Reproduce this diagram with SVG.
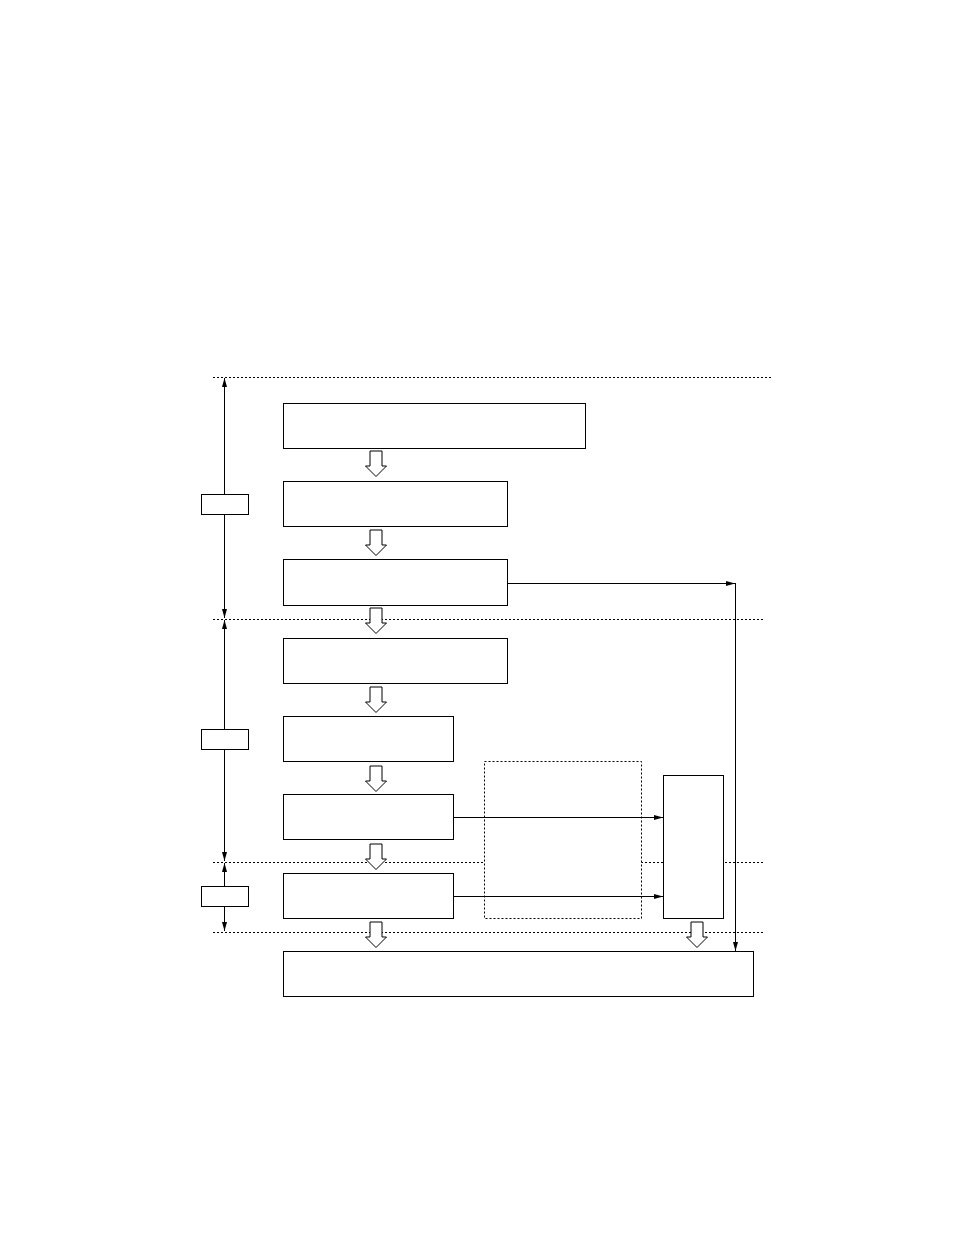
<svg xmlns="http://www.w3.org/2000/svg" width="954" height="1243" viewBox="0 0 954 1243">
<style>
.box{fill:#fff;stroke:#000;stroke-width:1}
.dbox{fill:#fff;stroke:#000;stroke-width:1;stroke-dasharray:2,2}
.sep{fill:none;stroke:#000;stroke-width:1;stroke-dasharray:2,2}
.ln{fill:none;stroke:#000;stroke-width:1}
.barrow{fill:#fff;stroke:#000;stroke-width:1}
</style>
<defs>
<marker id="ah" markerUnits="userSpaceOnUse" markerWidth="10" markerHeight="8" refX="9" refY="3" orient="auto-start-reverse">
<path d="M0,0.5 L9,3 L0,5.5 Z" fill="#000"/>
</marker>
</defs>
<rect width="954" height="1243" fill="#fff"/>
<g id="separators">
<line class="sep" x1="213" y1="377.5" x2="773" y2="377.5"/>
<line class="sep" x1="213" y1="619.5" x2="765" y2="619.5"/>
<line class="sep" x1="213" y1="862.5" x2="765" y2="862.5"/>
<line class="sep" x1="213" y1="932.5" x2="765" y2="932.5"/>
</g>
<g id="phase-arrows">
<line class="ln" x1="224.5" y1="378" x2="224.5" y2="618" marker-start="url(#ah)" marker-end="url(#ah)"/>
<line class="ln" x1="224.5" y1="620" x2="224.5" y2="861" marker-start="url(#ah)" marker-end="url(#ah)"/>
<line class="ln" x1="224.5" y1="863" x2="224.5" y2="931" marker-start="url(#ah)" marker-end="url(#ah)"/>
</g>
<g id="label1"><rect class="box" x="201.5" y="494.5" width="47" height="20"/></g>
<g id="label2"><rect class="box" x="201.5" y="729.5" width="47" height="20"/></g>
<g id="label3"><rect class="box" x="201.5" y="886.5" width="47" height="20"/></g>
<g id="dotted-group"><rect class="dbox" x="484.5" y="761.5" width="157" height="157"/></g>
<g id="n1"><rect class="box" x="283.5" y="403.5" width="302" height="45"/></g>
<g id="n2"><rect class="box" x="283.5" y="481.5" width="224" height="45"/></g>
<g id="n3"><rect class="box" x="283.5" y="559.5" width="224" height="46"/></g>
<g id="n4"><rect class="box" x="283.5" y="638.5" width="224" height="45"/></g>
<g id="n5"><rect class="box" x="283.5" y="716.5" width="170" height="45"/></g>
<g id="n6"><rect class="box" x="283.5" y="794.5" width="170" height="45"/></g>
<g id="n7"><rect class="box" x="283.5" y="873.5" width="170" height="45"/></g>
<g id="n8"><rect class="box" x="663.5" y="775.5" width="60" height="143"/></g>
<g id="n9"><rect class="box" x="283.5" y="951.5" width="470" height="45"/></g>
<g id="connectors">
<line class="ln" x1="508" y1="583.5" x2="735" y2="583.5" marker-end="url(#ah)"/>
<line class="ln" x1="735.5" y1="583" x2="735.5" y2="951" marker-end="url(#ah)"/>
<line class="ln" x1="454" y1="817.5" x2="663" y2="817.5" marker-end="url(#ah)"/>
<line class="ln" x1="454" y1="896.5" x2="663" y2="896.5" marker-end="url(#ah)"/>
<polygon class="barrow" points="370,451 382,451 382,466 386.5,466 376,476.5 365.5,466 370,466"/>
<polygon class="barrow" points="370,530 382,530 382,545 386.5,545 376,555.5 365.5,545 370,545"/>
<polygon class="barrow" points="370,608 382,608 382,623 386.5,623 376,633.5 365.5,623 370,623"/>
<polygon class="barrow" points="370,687 382,687 382,702 386.5,702 376,712.5 365.5,702 370,702"/>
<polygon class="barrow" points="370,766 382,766 382,781 386.5,781 376,791.5 365.5,781 370,781"/>
<polygon class="barrow" points="370,844 382,844 382,859 386.5,859 376,869.5 365.5,859 370,859"/>
<polygon class="barrow" points="370,922 382,922 382,937 386.5,937 376,947.5 365.5,937 370,937"/>
<polygon class="barrow" points="691,922 703,922 703,937 707.5,937 697,947.5 686.5,937 691,937"/>
</g>
</svg>
